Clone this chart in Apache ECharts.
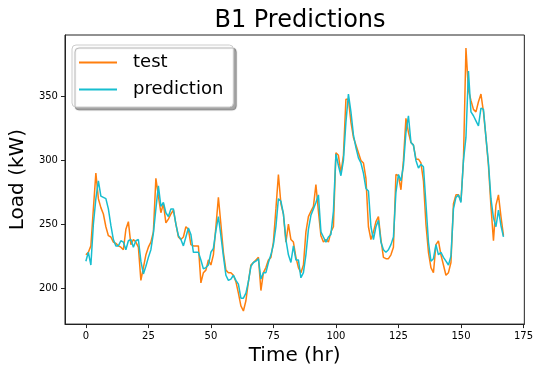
<!DOCTYPE html>
<html>
<head>
<meta charset="utf-8">
<script src="https://cdn.jsdelivr.net/npm/echarts@6/dist/echarts.min.js"></script>
<style>
  html, body { margin: 0; padding: 0; background: #fff; }
  #chart { width: 536px; height: 371px; }
</style>
</head>
<body>
<div id="chart"></div>
<script>
// hourly load, index = hour
var test = [
  226, 228, 233, 262, 290, 270, 263, 258, 248, 241, 240, 236, 235, 233, 232, 230,
  246, 252, 234, 238, 236, 232, 206, 216, 226, 232, 236, 244, 286, 272, 259, 266,
  251, 254, 258, 261, 250, 240, 238, 240, 248, 246, 234, 233, 233, 233, 204, 212,
  214, 222, 218, 226, 248, 271, 250, 228, 214, 212, 212, 210, 205, 196, 186, 182,
  190, 205, 218, 220, 222, 224, 198, 212, 216, 222, 224, 236, 262, 289, 266, 258,
  236, 250, 238, 236, 224, 216, 212, 218, 244, 256, 260, 264, 281, 260, 241, 236,
  238, 236, 244, 248, 306, 304, 290, 304, 348, 348, 330, 318, 312, 306, 300, 298,
  286, 248, 238, 244, 252, 256, 238, 224, 223, 223, 226, 232, 289, 288, 277, 300,
  333, 322, 314, 312, 301, 301, 298, 284, 250, 228, 216, 212, 234, 237, 226, 218,
  210, 212, 220, 266, 273, 273, 268, 300, 388, 355, 347, 340, 338, 346, 352, 338,
  318, 296, 264, 237, 265, 273, 256, 241
];
var prediction = [
  221, 228, 218, 250, 270, 284, 272, 271, 270, 262, 249, 238, 233, 233, 237, 236,
  230, 237, 238, 232, 237, 238, 221, 211, 217, 224, 230, 243, 262, 280, 264, 267,
  259, 256, 262, 262, 250, 241, 238, 233, 240, 247, 242, 228, 228, 228, 222, 215,
  216, 218, 228, 231, 245, 256, 241, 225, 210, 206, 207, 210, 206, 203, 192, 192,
  196, 205, 217, 220, 221, 223, 207, 212, 212, 220, 226, 234, 248, 270, 268, 258,
  238, 226, 220, 233, 222, 222, 208, 212, 226, 246, 257, 262, 267, 273, 244, 240,
  236, 240, 242, 260, 305, 296, 288, 300, 330, 352, 338, 320, 310, 302, 298, 290,
  278, 276, 248, 238, 248, 253, 236, 230, 228, 230, 234, 240, 275, 289, 284, 296,
  322, 335, 314, 312, 300, 294, 297, 295, 266, 236, 221, 223, 234, 226, 228, 224,
  221, 218, 225, 262, 271, 273, 267, 300, 318, 370, 338, 335, 331, 327, 341, 340,
  318, 298, 270, 255, 248, 261, 249, 240
];
var xTicks = [0, 25, 50, 75, 100, 125, 150, 175];
var yTicks = [200, 250, 300, 350];

var font = "DejaVu Sans";
var chart = echarts.init(document.getElementById("chart"));

function pairs(arr) {
  return arr.map(function (v, i) { return [i, v]; });
}

var option = {
  animation: false,
  color: ["#ff7f0e", "#17becf"],
  title: {
    text: "B1 Predictions",
    left: 295,
    textAlign: "center",
    top: 4,
    textStyle: { fontFamily: font, fontSize: 24, fontWeight: "normal", color: "#000" }
  },
  legend: {
    orient: "vertical",
    left: 72,
    top: 45,
    padding: [7, 10, 7, 7],
    itemGap: 6,
    itemWidth: 38,
    itemHeight: 2,
    icon: "rect",
    backgroundColor: "#fff",
    borderColor: "#cccccc",
    borderWidth: 1,
    borderRadius: 4,
    shadowColor: "rgba(0,0,0,0.35)",
    shadowOffsetX: 3,
    shadowOffsetY: 3,
    shadowBlur: 1,
    textStyle: { fontFamily: font, fontSize: 18, color: "#000", lineHeight: 21, padding: [0, 0, 0, 11] },
    data: ["test", "prediction"]
  },
  grid: {
    left: 62,
    right: 9,
    top: 35,
    bottom: 45,
    show: true,
    borderColor: "#222",
    borderWidth: 1,
    backgroundColor: "transparent"
  },
  xAxis: {
    type: "value",
    min: -8.35,
    max: 175.35,
    name: "Time (hr)",
    nameLocation: "middle",
    nameGap: 19,
    nameTextStyle: { fontFamily: font, fontSize: 20, color: "#000" },
    axisLine: { show: true, onZero: false, lineStyle: { color: "#222", width: 1 } },
    axisTick: { show: true, length: 4, customValues: xTicks, lineStyle: { color: "#222" } },
    axisLabel: { customValues: xTicks, margin: 7, fontFamily: font, fontSize: 10, color: "#000" },
    splitLine: { show: false }
  },
  yAxis: {
    type: "value",
    min: 171.7,
    max: 398.3,
    name: "Load (kW)",
    nameLocation: "middle",
    nameGap: 34,
    nameTextStyle: { fontFamily: font, fontSize: 20, color: "#000" },
    axisLine: { show: true, onZero: false, lineStyle: { color: "#222", width: 1 } },
    axisTick: { show: true, length: 4, customValues: yTicks, lineStyle: { color: "#222" } },
    axisLabel: { customValues: yTicks, margin: 7, fontFamily: font, fontSize: 10, color: "#000" },
    splitLine: { show: false }
  },
  series: [
    {
      name: "test",
      type: "line",
      showSymbol: false,
      lineStyle: { width: 1.5 },
      data: pairs(test)
    },
    {
      name: "prediction",
      type: "line",
      showSymbol: false,
      lineStyle: { width: 1.5 },
      data: pairs(prediction)
    }
  ]
};
chart.setOption(option);
</script>
</body>
</html>
